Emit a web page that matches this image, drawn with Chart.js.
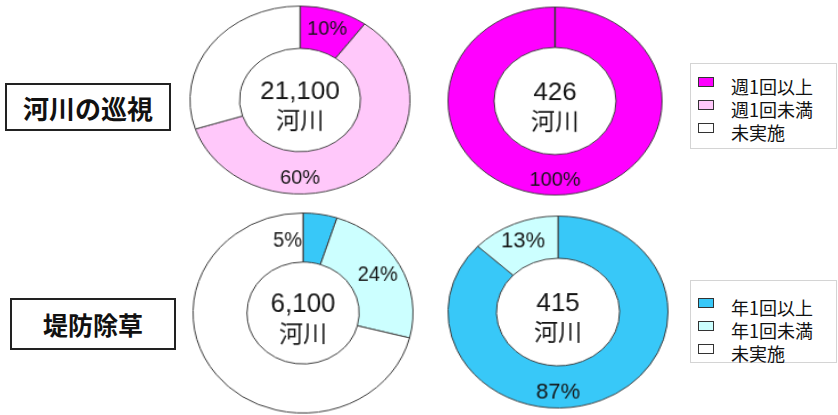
<!DOCTYPE html>
<html>
<head>
<meta charset="utf-8">
<script src="https://cdn.jsdelivr.net/npm/chart.js@4.4.0/dist/chart.umd.min.js"></script>
<style>
  body { margin: 0; background: #fff; }
  #page { position: relative; width: 838px; height: 415px; overflow: hidden;
          font-family: "Liberation Sans", "Noto Sans CJK JP", sans-serif; color: #111; }
  canvas.ring { position: absolute; transform-origin: 100px 100px; }
  .title { position: absolute; box-sizing: border-box; border: 2px solid #222;
           font-family: "Noto Sans CJK JP", sans-serif; font-weight: bold;
           display: flex; align-items: center; justify-content: center; }
  .legend { position: absolute; box-sizing: border-box; border: 1px solid #d4d4d4;
            font-family: "Noto Sans CJK JP", sans-serif; font-size: 18px; }
  .legend .row { height: 23px; display: flex; align-items: center; }
  .legend .sw { width: 14px; height: 8px; border: 1px solid #333; margin: 0 17px 0 7px;
                position: relative; top: -4px; }
</style>
</head>
<body>
<div id="page">
  <canvas id="c1" class="ring" width="200" height="200"></canvas>
  <canvas id="c2" class="ring" width="200" height="200"></canvas>
  <canvas id="c3" class="ring" width="200" height="200"></canvas>
  <canvas id="c4" class="ring" width="200" height="200"></canvas>
  <div id="t1" class="title" style="left:5px;top:83px;width:166px;height:48px;font-size:26px;"></div>
  <div id="t2" class="title" style="left:10px;top:298px;width:166px;height:52px;font-size:25px;"></div>
  <div id="l1" class="legend" style="left:690px;top:63px;width:147px;height:86px;padding-top:10px;"></div>
  <div id="l2" class="legend" style="left:690px;top:280px;width:147px;height:83px;padding-top:14px;"></div>
</div>
<script>
// categories
const patrolCats = ["週1回以上", "週1回未満", "未実施"];
const mowCats = ["年1回以上", "年1回未満", "未実施"];
// shares in percent
const patrolAll = [10, 60, 30];     // 21,100 河川
const patrolMajor = [100, 0, 0];    // 426 河川
const mowAll = [5, 24, 71];         // 6,100 河川
const mowMajor = [87, 13, 0];       // 415 河川
// centre labels
const patrolAllCount = ["21,100", "河川"];
const patrolMajorCount = ["426", "河川"];
const mowAllCount = ["6,100", "河川"];
const mowMajorCount = ["415", "河川"];
const titles = ["河川の巡視", "堤防除草"];

const patrolColors = ["#ff00ff", "#ffc8fa", "#ffffff"];
const mowColors = ["#38c8f8", "#ccffff", "#ffffff"];

// percent labels and centre text, drawn unstretched
const ringText = {
  id: "ringText",
  afterDatasetsDraw(chart, args, opts) {
    const ctx = chart.ctx;
    const sx = chart.$sx || 1, sy = chart.$sy || 1;
    const meta = chart.getDatasetMeta(0);
    const data = chart.data.datasets[0].data;
    const total = data.reduce((a, b) => a + b, 0);
    const put = (txt, x, y, font, base) => {
      ctx.save();
      ctx.translate(x, y);
      ctx.scale(1 / sx, 1 / sy);
      ctx.font = font;
      ctx.fillStyle = "#151515";
      ctx.textAlign = "center";
      ctx.textBaseline = base || "middle";
      ctx.fillText(txt, 0, 0);
      ctx.restore();
    };
    const pctFont = opts.pctSize + 'px "Liberation Sans", sans-serif';
    meta.data.forEach((arc, i) => {
      const v = data[i];
      if (!v || i === 2) return;   // "未実施" is not labelled
      const p = arc.getProps(["x", "y", "startAngle", "endAngle", "innerRadius", "outerRadius"], true);
      const mid = (p.innerRadius + p.outerRadius) / 2;
      let a = (p.startAngle + p.endAngle) / 2, r = mid + 2;
      const down = Math.PI / 2;
      if (p.startAngle <= down && p.endAngle >= down) { a = down; r = mid + 6; }
      const txt = v + "%";
      if (v / total < 0.08) {
        // small slice: label sits just outside, before the slice start
        ctx.font = pctFont;
        const w = ctx.measureText(txt).width;
        const x = p.x + Math.cos(p.startAngle) * mid - (w / 2 + 1) / sx;
        const y = p.y + Math.sin(p.startAngle) * mid + 4 / sy;
        put(txt, x, y, pctFont);
        return;
      }
      put(txt, p.x + Math.cos(a) * r, p.y + Math.sin(a) * r, pctFont);
    });
    const c = meta.data[0];
    put(opts.center[0], c.x, c.y - 1 / sy, '26px "Liberation Sans", sans-serif', "alphabetic");
    put(opts.center[1], c.x, c.y + 20 / sy, '24px "Noto Sans CJK JP", sans-serif', "middle");
  }
};

function ring(id, labels, values, colors, center, geo) {
  const cv = document.getElementById(id);
  cv.style.left = (geo.cx - 100) + "px";
  cv.style.top = (geo.cy - 100) + "px";
  const chart = new Chart(cv, {
    type: "doughnut",
    data: {
      labels: labels,
      datasets: [{
        data: values,
        backgroundColor: colors,
        borderColor: "#3c3c3c",
        borderWidth: 1
      }]
    },
    options: {
      responsive: false,
      animation: false,
      cutout: geo.cut,
      layout: { padding: 3 },
      plugins: {
        legend: { display: false },
        tooltip: { enabled: false },
        ringText: { center: center, pctSize: geo.pct }
      }
    },
    plugins: [ringText]
  });
  const R = chart.getDatasetMeta(0).controller.outerRadius;
  chart.$sx = geo.rx / R;
  chart.$sy = geo.ry / R;
  cv.style.transform = "scale(" + chart.$sx + "," + chart.$sy + ")";
  chart.draw();
  return chart;
}

ring("c1", patrolCats, patrolAll, patrolColors, patrolAllCount, { cx: 300, cy: 100, rx: 110, ry: 94, cut: "55%", pct: 20 });
ring("c2", patrolCats, patrolMajor, patrolColors, patrolMajorCount, { cx: 555, cy: 101, rx: 107, ry: 94, cut: "57%", pct: 20 });
ring("c3", mowCats, mowAll, mowColors, mowAllCount, { cx: 303, cy: 313, rx: 110, ry: 100, cut: "51%", pct: 20 });
ring("c4", mowCats, mowMajor, mowColors, mowMajorCount, { cx: 558, cy: 312, rx: 110, ry: 96, cut: "56%", pct: 22 });

document.getElementById("t1").innerText = titles[0];
document.getElementById("t2").innerText = titles[1];

function legend(id, labels, colors) {
  const box = document.getElementById(id);
  labels.forEach((l, i) => {
    const row = document.createElement("div");
    row.className = "row";
    const sw = document.createElement("span");
    sw.className = "sw";
    sw.style.background = colors[i];
    const tx = document.createElement("span");
    tx.innerText = l;
    row.appendChild(sw);
    row.appendChild(tx);
    box.appendChild(row);
  });
}
legend("l1", patrolCats, patrolColors);
legend("l2", mowCats, mowColors);
</script>
</body>
</html>
